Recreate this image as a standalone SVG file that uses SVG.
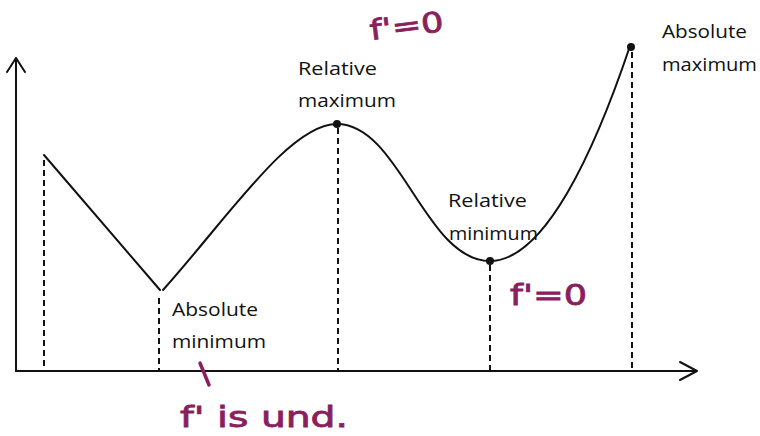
<svg xmlns="http://www.w3.org/2000/svg" width="760" height="436" viewBox="0 0 760 436">
<style>
.ax{fill:none;stroke:#111;stroke-width:2;stroke-linecap:round;stroke-linejoin:round}
.cv{fill:none;stroke:#111;stroke-width:2;stroke-linecap:round}
.dash{fill:none;stroke:#111;stroke-width:2;stroke-dasharray:6,4}
.lbl{font-family:"Open Sans","Liberation Sans",sans-serif;font-size:19px;fill:#111}
.hw{font-family:"DejaVu Sans","Liberation Sans",sans-serif;font-size:28px;fill:#8a1f5e;stroke:#8a1f5e;stroke-width:0.8}
.dot{fill:#111}
</style>
<rect width="760" height="436" fill="#fff"/>
<g id="axes">
<path class="ax" d="M16,371 V58 M7,72 L16,58 L25,72"/>
<path class="ax" d="M16,371 H697 M680,362 L697,371 L680,380"/>
</g>
<g id="connectors">
<path class="dash" d="M44,160 V370"/>
<path class="dash" d="M159,298 V370"/>
<path class="dash" d="M338,128 V370"/>
<path class="dash" d="M490,265 V370"/>
<path class="dash" d="M632,52 V370"/>
<path class="cv" d="M44,155 L160,290"/>
<path class="cv" d="M163,290 C230,215 290,124 337,124 C400,124 425,261 490,261 C545,261 595,150 630,46"/>
<path d="M200,363 L209,385" fill="none" stroke="#8a1f5e" stroke-width="3.5" stroke-linecap="round"/>
</g>
<g id="rel-max">
<circle class="dot" cx="337" cy="124" r="4"/>
<text class="lbl" x="298" y="75" textLength="79" lengthAdjust="spacingAndGlyphs">Relative</text>
<text class="lbl" x="298" y="107" textLength="98" lengthAdjust="spacingAndGlyphs">maximum</text>
</g>
<g id="abs-max">
<circle class="dot" cx="631" cy="47" r="4"/>
<text class="lbl" x="662" y="38" textLength="85" lengthAdjust="spacingAndGlyphs">Absolute</text>
<text class="lbl" x="662" y="71" textLength="95" lengthAdjust="spacingAndGlyphs">maximum</text>
</g>
<g id="rel-min">
<circle class="dot" cx="490" cy="261" r="4"/>
<text class="lbl" x="448" y="207" textLength="79" lengthAdjust="spacingAndGlyphs">Relative</text>
<text class="lbl" x="449" y="240" textLength="89" lengthAdjust="spacingAndGlyphs">minimum</text>
</g>
<g id="abs-min">
<text class="lbl" x="172" y="316" textLength="86" lengthAdjust="spacingAndGlyphs">Absolute</text>
<text class="lbl" x="172" y="348" textLength="94" lengthAdjust="spacingAndGlyphs">minimum</text>
</g>
<g id="notes">
<text class="hw" x="371" y="40" textLength="74" lengthAdjust="spacingAndGlyphs" transform="rotate(-7 371 40)">f'=0</text>
<text class="hw" x="510" y="305" textLength="77" lengthAdjust="spacingAndGlyphs">f'=0</text>
<text class="hw" x="180" y="427" textLength="168" lengthAdjust="spacingAndGlyphs">f' is und.</text>
</g>
</svg>
